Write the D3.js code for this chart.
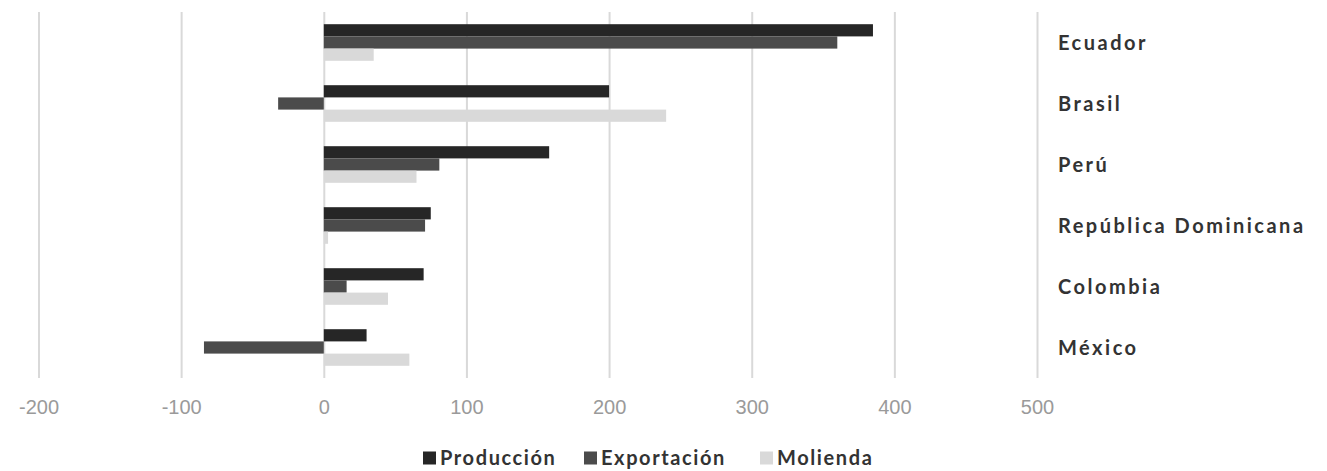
<!DOCTYPE html>
<html>
<head>
<meta charset="utf-8">
<script src="https://cdn.jsdelivr.net/npm/d3@7"></script>
<style>
  html, body { margin: 0; padding: 0; background: #fff; }
  svg { display: block; }
</style>
</head>
<body>
<svg id="chart" width="1327" height="471"></svg>
<script>
// Country categories, top to bottom
const countries = ["Ecuador", "Brasil", "Perú", "República Dominicana", "Colombia", "México"];
const seriesNames = ["Producción", "Exportación", "Molienda"];
const produccion  = [385, 200, 158, 75, 70, 30];
const exportacion = [360, -32, 81, 71, 16, -84];
const molienda    = [35, 240, 65, 3, 45, 60];
const xTicks = [-200, -100, 0, 100, 200, 300, 400, 500];
const colors = ["#262626", "#4b4b4b", "#d9d9d9"];

const seriesValues = [produccion, exportacion, molienda];

const svg = d3.select("#chart");
const plot = { left: 38.5, right: 1037, top: 12, bottom: 378 };

const x = d3.scaleLinear().domain([-200, 500]).range([plot.left, plot.right]);
const y = d3.scaleBand().domain(countries).range([plot.top, plot.bottom]).paddingInner(0.4).paddingOuter(0.2);
const ySub = d3.scaleBand().domain(seriesNames).range([0, y.bandwidth()]);

// Vertical gridlines
svg.append("g")
  .attr("transform", `translate(0,${plot.bottom})`)
  .call(d3.axisBottom(x).tickValues(xTicks).tickSize(-(plot.bottom - plot.top)).tickFormat(""))
  .call(g => g.select(".domain").remove())
  .call(g => g.selectAll(".tick line").attr("stroke", "#d9d9d9").attr("stroke-width", 2));

// Tick labels (plain hyphen for negatives)
svg.append("g")
  .attr("transform", `translate(0,${plot.bottom})`)
  .call(d3.axisBottom(x).tickValues(xTicks).tickSize(0).tickPadding(22).tickFormat(d => String(d)))
  .call(g => g.select(".domain").remove())
  .call(g => g.selectAll("text")
    .attr("fill", "#9a9a9a")
    .style("font-family", "'Liberation Sans', Arial, sans-serif")
    .style("font-size", "20px"));

// Bars
const rows = countries.map((c, i) => ({ country: c, values: seriesNames.map((s, j) => ({ series: s, value: seriesValues[j][i], color: colors[j] })) }));

const groups = svg.append("g").selectAll("g")
  .data(rows)
  .join("g")
  .attr("transform", d => `translate(0,${y(d.country)})`);

groups.selectAll("rect")
  .data(d => d.values)
  .join("rect")
  .attr("x", d => x(Math.min(0, d.value)))
  .attr("width", d => Math.abs(x(d.value) - x(0)))
  .attr("y", d => ySub(d.series))
  .attr("height", ySub.bandwidth())
  .attr("fill", d => d.color);

// Category labels on the right
svg.append("g").selectAll("text")
  .data(countries)
  .join("text")
  .attr("x", 1058)
  .attr("y", d => y(d) + y.bandwidth() / 2)
  .attr("dy", "0.35em")
  .attr("fill", "#333")
  .style("font-family", "Lato, 'Open Sans', sans-serif")
  .style("font-weight", "700")
  .style("font-size", "20px")
  .style("letter-spacing", "2.5px")
  .text(d => d);

// Legend
const legendX = [423, 584, 760];
const legend = svg.append("g").selectAll("g")
  .data(seriesNames)
  .join("g")
  .attr("transform", (d, i) => `translate(${legendX[i]},458)`);

legend.append("rect")
  .attr("x", 0).attr("y", -6.5)
  .attr("width", 13).attr("height", 13)
  .attr("fill", (d, i) => colors[i]);

legend.append("text")
  .attr("x", 17)
  .attr("dy", "0.35em")
  .attr("fill", "#333")
  .style("font-family", "Lato, 'Open Sans', sans-serif")
  .style("font-weight", "700")
  .style("font-size", "20px")
  .style("letter-spacing", "1.6px")
  .text(d => d);
</script>
</body>
</html>
